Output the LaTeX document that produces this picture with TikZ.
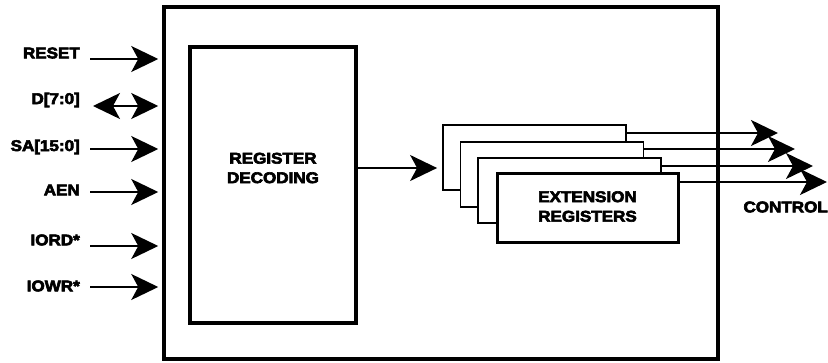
\documentclass[tikz,border=0pt]{standalone}
\usepackage{fontspec}
\setmainfont{Liberation Sans}[FakeStretch=1.1,BoldFeatures={FakeBold=4}]
\usetikzlibrary{arrows.meta}
\begin{document}
\begin{tikzpicture}[x=1pt,y=-1pt,
  lab/.style={font=\bfseries\fontsize{15.5}{19.5}\selectfont, inner sep=0pt, align=center},
  tipA/.tip={Stealth[length=27pt,width=26pt,inset=7pt]},
  sig/.style={line width=1.6pt, -tipA},
  bisig/.style={line width=1.6pt, tipA-tipA},
  bigbox/.style={draw, line width=3.5pt, inner sep=0pt},
  regback/.style={draw, fill=white, line width=1.8pt, inner sep=0pt, minimum width=183pt, minimum height=65pt},
  regfront/.style={draw, fill=white, line width=3pt, inner sep=0pt, minimum width=181pt, minimum height=69pt}]
\useasboundingbox (0,0) rectangle (828,362);

% outer chip box
\node[bigbox, minimum width=554pt, minimum height=352pt] (chip) at (441,183) {};
% register decoding box
\node[bigbox, minimum width=166pt, minimum height=276pt] (dec) at (273,185) {};
\node[lab] (dectext) at (273,168) {REGISTER\\DECODING};

% input labels
\node[lab, anchor=east] (reset) at (80,53) {RESET};
\node[lab, anchor=east] (data) at (80,100) {D[7:0]};
\node[lab, anchor=east] (sa) at (80,147) {SA[15:0]};
\node[lab, anchor=east] (aen) at (80,190) {AEN};
\node[lab, anchor=east] (iord) at (80,240) {IORD*};
\node[lab, anchor=east] (iowr) at (80,286) {IOWR*};

\coordinate (resetS) at (90,59);
\coordinate (dataS) at (93,106);
\coordinate (saS) at (90,149);
\coordinate (aenS) at (90,192);
\coordinate (iordS) at (90,246);
\coordinate (iowrS) at (90,287);

\draw[sig, shorten >=4pt] (resetS) -- (chip.west |- resetS);
\draw[bisig, shorten >=4pt] (dataS) -- (chip.west |- dataS);
\draw[sig, shorten >=4pt] (saS) -- (chip.west |- saS);
\draw[sig, shorten >=4pt] (aenS) -- (chip.west |- aenS);
\draw[sig, shorten >=4pt] (iordS) -- (chip.west |- iordS);
\draw[sig, shorten >=4pt] (iowrS) -- (chip.west |- iowrS);

% extension registers stack
\node[regback] (r1) at (534.5,157.5) {};
\node[regback] (r2) at (552,174.5) {};
\node[regback] (r3) at (569.5,190.5) {};
\node[regfront] (r4) at (587.5,207.5) {};
\node[lab] (r4text) at (587.5,206.5) {EXTENSION\\REGISTERS};

\coordinate (decOut) at (dec.east |- 0,168);
\draw[sig, shorten >=5pt] (decOut) -- (r1.west |- decOut);

% control outputs
\coordinate (o1) at (r1.east |- 0,133);
\coordinate (o2) at (r2.east |- 0,149);
\coordinate (o3) at (r3.east |- 0,166);
\coordinate (o4) at (r4.east |- 0,182);
\coordinate (e1) at (778,133);
\coordinate (e2) at (795,149);
\coordinate (e3) at (813,166);
\coordinate (e4) at (827,182);
\draw[sig] (o1) -- (e1);
\draw[sig] (o2) -- (e2);
\draw[sig] (o3) -- (e3);
\draw[sig] (o4) -- (e4);
\node[lab, anchor=east] (control) at (828,207) {CONTROL};
\end{tikzpicture}
\end{document}
